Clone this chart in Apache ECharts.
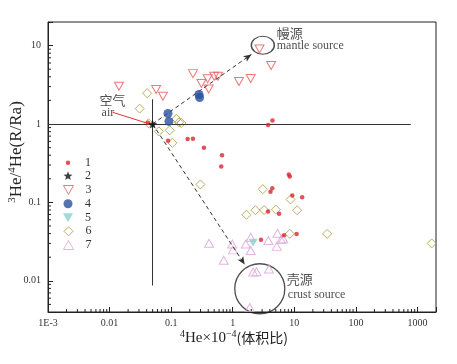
<!DOCTYPE html>
<html><head><meta charset="utf-8">
<script src="https://cdn.jsdelivr.net/npm/echarts@6/dist/echarts.min.js"></script>
<style>html,body{margin:0;padding:0;background:#fff}#c{width:457px;height:364px}</style>
</head><body><div id="c"></div>
<script>
// ---- data ----
const seriesNames = ['1','2','3','4','5','6','7'];
const xTickLabels = ['1E-3','0.01','0.1','1','10','100','1000'];
const yTickLabels = ['0.01','0.1','1','10'];
const s1 = [[0.042,1.04],[0.089,0.61],[0.185,0.643],[0.226,0.647],[0.341,0.499],[0.67,0.398],[0.65,0.288],[3.75,0.97],[4.42,1.105],[8.14,0.227],[8.45,0.214],[4.39,0.151],[4.10,0.137],[9.27,0.1225],[13.4,0.116],[3.75,0.0765],[5.66,0.0715],[2.88,0.0335],[6.81,0.038],[10.9,0.0394]];
const s2 = [[0.05,1.0]];
const s3 = [[0.0142,3.03],[0.057,2.75],[0.0736,2.26],[0.226,4.39],[0.31,3.28],[0.392,3.78],[0.5,4.07],[0.577,4.07],[0.407,2.8],[1.265,3.48],[1.96,3.81],[4.2,5.58],[2.72,9.07]];
const s4 = [[0.0887,1.36],[0.092,1.08],[0.283,2.38],[0.29,2.18]];
const s5 = [[2.14,0.0305]];
const s6 = [[0.0407,2.47],[0.0308,1.57],[0.043,1.02],[0.063,0.806],[0.0946,0.831],[0.1047,0.575],[0.1217,1.166],[0.134,1.05],[0.1466,1.03],[0.2985,0.1694],[3.08,0.1475],[8.67,0.109],[1.67,0.0696],[2.34,0.0795],[3.23,0.08],[5.0,0.081],[11.1,0.0795],[8.45,0.0397],[34.1,0.0397],[1702,0.030]];
const s7 = [[0.412,0.0301],[0.714,0.0183],[0.982,0.0294],[1.01,0.0248],[1.63,0.0294],[1.96,0.0359],[1.96,0.0243],[3.78,0.0326],[5.33,0.0404],[6.1,0.0335],[6.62,0.0343],[5.19,0.0275],[2.15,0.0129],[2.43,0.01306],[3.89,0.01415],[1.89,0.00457]];
// reference lines / arrows (data coordinates)
const airPoint = [0.05, 1];
const mantleArrowEnd = [2.01, 7.72];
const crustArrowEnd = [1.567, 0.0161];
const hLine = [[0.001, 1], [780, 1]];
const vLine = [[0.05, 2.07], [0.05, 0.0087]];
const airPointer = [[0.0112, 1.41], [0.0415, 1.02]];
const mantleCircle = [3.08, 10.1];
const crustCircle = [2.75, 0.00792];
const annotations = [
  {text:'空气', at:[0.00687, 2.01], cjk:true},
  {text:'air', at:[0.00741, 1.37]},
  {text:'幔源', at:[5.19, 14.45], cjk:true},
  {text:'mantle source', at:[5.19, 10.0]},
  {text:'壳源', at:[7.55, 0.01064], cjk:true},
  {text:'crust source', at:[7.84, 0.00664]}
];
const X_MIN = 0.001, X_MAX = 2000, Y_MIN = 0.004, Y_MAX = 20;

const SERIF = '"Liberation Serif","DejaVu Serif",serif';
const CJK = '"Noto Sans CJK SC","Liberation Serif",sans-serif';
const STAR = 'path://M12,1 L14.9,8.6 23,9.3 16.8,14.5 18.8,22.5 12,18.2 5.2,22.5 7.2,14.5 1,9.3 9.1,8.6 Z';
const TRI_DOWN = 'path://M0,0 L10,0 L5,9 Z';
const TRI_UP = 'path://M5,0 L10,9 L0,9 Z';

function powLabel(arr, offset){
  return function(v){
    const e = Math.log10(v), r = Math.round(e);
    if (Math.abs(e - r) > 1e-6) return '';
    const s = arr[r + offset];
    return s === undefined ? '' : s;
  };
}

// minor tick positions (axis decoration)
const xMinor = [], yMinor = [];
for (let d = -3; d <= 3; d++) for (let k = 2; k <= 9; k++) { const v = k * Math.pow(10, d); if (v > X_MIN && v < X_MAX) xMinor.push([v, Y_MIN]); }
for (let d = -3; d <= 1; d++) for (let k = 2; k <= 9; k++) { const v = k * Math.pow(10, d); if (v > Y_MIN && v < Y_MAX) yMinor.push([X_MIN, v]); }

const chart = echarts.init(document.getElementById('c'), null, {renderer:'canvas'});

const legendRows = [
  {name:'1', y:162.7, w:4.5, h:4.5},
  {name:'2', y:175.7, w:9, h:9},
  {name:'3', y:190, w:10, h:9, icon:TRI_DOWN},
  {name:'4', y:203.7, w:9, h:9},
  {name:'5', y:217.7, w:10, h:9, icon:TRI_DOWN},
  {name:'6', y:231.3, w:9, h:9},
  {name:'7', y:245, w:10, h:9, icon:TRI_UP}
];
const legends = legendRows.map(r => ({
  data:[r.icon ? {name:r.name, icon:r.icon} : r.name], orient:'vertical', left:68 - r.w/2, top:r.y - 7, padding:0,
  itemWidth:r.w, itemHeight:r.h, selectedMode:false,
  itemStyle:{borderWidth:1},
  textStyle:{fontFamily:SERIF, fontSize:12, color:'#333', lineHeight:14, padding:[0,0,0,Math.max(0, 12 - r.w/2)]}
}));

const hollow = (c) => ({color:'rgba(255,255,255,0)', borderColor:c, borderWidth:1});

const option = {
  animation:false,
  backgroundColor:'#fff',
  grid:{left:48, right:21, top:22, bottom:52, show:true, borderColor:'#222', borderWidth:1, backgroundColor:'transparent', outerBoundsMode:'none', containLabel:false},
  legend:legends,
  xAxis:{
    type:'log', min:X_MIN, max:X_MAX, logBase:10,
    name:'{sup|4}{b|He×10}{sup|−4}{c|(体积比)}', nameLocation:'middle', nameGap:17, nameMoveOverlap:false,
    nameTextStyle:{padding:[0,16,0,0], rich:{
      b:{fontFamily:SERIF, fontSize:15, color:'#222'},
      c:{fontFamily:CJK, fontSize:14, color:'#222'},
      sup:{fontFamily:SERIF, fontSize:10, color:'#222', padding:[0,0,8,0]}
    }},
    axisLine:{show:true, lineStyle:{color:'#222', width:1}},
    axisTick:{show:true, inside:true, length:5, lineStyle:{color:'#222'}},
    axisLabel:{formatter:powLabel(xTickLabels, 3), fontFamily:SERIF, fontSize:10, color:'#333', margin:6},
    splitLine:{show:false}
  },
  yAxis:{
    type:'log', min:Y_MIN, max:Y_MAX, logBase:10,
    name:'{sup|3}{b|He/}{sup|4}{b|He(R/Ra)}', nameLocation:'middle', nameGap:21, nameMoveOverlap:false,
    nameTextStyle:{padding:[0,0,0,30], rich:{
      b:{fontFamily:SERIF, fontSize:17, color:'#222'},
      sup:{fontFamily:SERIF, fontSize:11, color:'#222', padding:[0,0,9,0]}
    }},
    axisLine:{show:true, lineStyle:{color:'#222', width:1}},
    axisTick:{show:true, inside:true, length:5, lineStyle:{color:'#222'}},
    axisLabel:{formatter:powLabel(yTickLabels, 2), fontFamily:SERIF, fontSize:10, color:'#333', margin:7},
    splitLine:{show:false}
  },
  series:[
    {type:'custom', name:'xminor', silent:true, z:1, clip:false, data:xMinor,
     renderItem:function(p, api){ const c = api.coord([api.value(0), api.value(1)]);
       return {type:'line', shape:{x1:c[0], y1:c[1], x2:c[0], y2:c[1]-3}, style:{stroke:'#222', lineWidth:1}}; }},
    {type:'custom', name:'yminor', silent:true, z:1, clip:false, data:yMinor,
     renderItem:function(p, api){ const c = api.coord([api.value(0), api.value(1)]);
       return {type:'line', shape:{x1:c[0], y1:c[1], x2:c[0]+3, y2:c[1]}, style:{stroke:'#222', lineWidth:1}}; }},
    {type:'scatter', name:'lines', silent:true, data:[], z:2,
     markLine:{silent:true, symbol:['none','none'], label:{show:false}, animation:false,
       data:[
         [{coord:hLine[0], lineStyle:{color:'#333', width:1.2, type:'solid'}}, {coord:hLine[1]}],
         [{coord:vLine[0], lineStyle:{color:'#333', width:1, type:'solid'}}, {coord:vLine[1]}],
         [{coord:airPointer[0], lineStyle:{color:'#e0343a', width:1, type:'solid'}}, {coord:airPointer[1]}],
         [{coord:airPoint, symbol:'none', lineStyle:{color:'#333', width:1, type:[4,3]}}, {coord:mantleArrowEnd, symbol:'arrow', symbolSize:[5,8]}],
         [{coord:airPoint, symbol:'none', lineStyle:{color:'#333', width:1, type:[4,3]}}, {coord:crustArrowEnd, symbol:'arrow', symbolSize:[5,8]}]
       ]}},
    {type:'scatter', name:'circles', silent:true, z:3,
     data:[{value:mantleCircle, symbolSize:[23,18]}, {value:crustCircle, symbolSize:[50,50]}],
     symbol:'circle', itemStyle:{color:'rgba(255,255,255,0)', borderColor:'#222', borderWidth:1.3}},
    {type:'scatter', name:'6', data:s6, symbol:'diamond', symbolSize:9, itemStyle:hollow('#a89a3a'), z:4},
    {type:'scatter', name:'3', data:s3, symbol:'triangle', symbolRotate:180, symbolSize:[9,8], itemStyle:hollow('#e8585a'), z:4},
    {type:'scatter', name:'7', data:s7, symbol:'triangle', symbolSize:[9,8], itemStyle:hollow('#d8a2d6'), z:4},
    {type:'scatter', name:'5', data:s5, symbol:'triangle', symbolRotate:180, symbolSize:[9,8], itemStyle:{color:'#8cd0cc'}, z:5},
    {type:'scatter', name:'4', data:s4, symbol:'circle', symbolSize:9, itemStyle:{color:'#2b4f9e'}, z:5},
    {type:'scatter', name:'1', data:s1, symbol:'circle', symbolSize:4.5, itemStyle:{color:'#d9262c'}, z:6},
    {type:'scatter', name:'2', data:s2, symbol:STAR, symbolSize:9, itemStyle:{color:'#111'}, z:6},
    {type:'scatter', name:'labels', silent:true, z:7, symbolSize:0,
     data:annotations.map(a => ({value:a.at, label:{show:true, formatter:a.text, position:'inside', align:'left', verticalAlign:'middle',
        fontFamily:a.cjk ? CJK : SERIF, fontSize:a.cjk ? 13 : 12, color:'#222'}}))}
  ]
};
chart.setOption(option);
</script>
</body></html>
